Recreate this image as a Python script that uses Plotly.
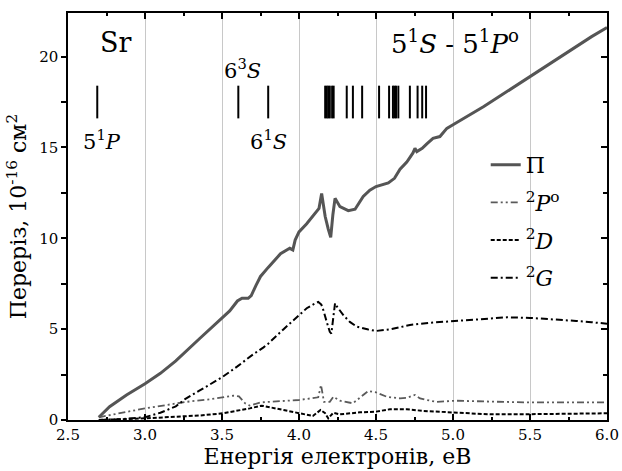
import plotly.graph_objects as go

# ---- data ----
E_total = [2.70, 2.77, 2.88, 3.00, 3.10, 3.20, 3.357, 3.50, 3.55, 3.60, 3.63, 3.67, 3.69, 3.72,
           3.75, 3.80, 3.85, 3.88, 3.94, 3.96, 3.975, 4.00, 4.05, 4.09, 4.13, 4.147, 4.17, 4.19,
           4.206, 4.22, 4.234, 4.266, 4.32, 4.364, 4.417, 4.46, 4.50, 4.58, 4.62, 4.656, 4.70,
           4.74, 4.753, 4.765, 4.80, 4.83, 4.87, 4.915, 4.96, 5.00, 5.10, 5.20, 5.30, 5.40, 5.50,
           5.60, 5.70, 5.80, 5.90, 6.00]
S_total = [0.15, 0.73, 1.38, 2.00, 2.57, 3.25, 4.50, 5.60, 6.00, 6.55, 6.70, 6.70, 6.85, 7.40,
           7.90, 8.40, 8.85, 9.15, 9.45, 9.36, 9.90, 10.35, 10.80, 11.25, 11.65, 12.47, 11.20, 10.50,
           10.05, 11.30, 12.20, 11.74, 11.52, 11.60, 12.30, 12.65, 12.85, 13.05, 13.30, 13.80, 14.20,
           14.70, 14.95, 14.77, 14.95, 15.20, 15.50, 15.60, 16.05, 16.25, 16.75, 17.25, 17.80, 18.35, 18.90,
           19.45, 20.00, 20.55, 21.10, 21.60]

E_P = [2.70, 2.88, 3.00, 3.27, 3.42, 3.573, 3.61, 3.65, 3.68, 3.75, 4.00, 4.125, 4.143, 4.162,
       4.20, 4.223, 4.266, 4.35, 4.45, 4.50, 4.57, 4.656, 4.70, 4.753, 4.786, 4.83, 4.89, 5.02,
       5.24, 5.46, 5.75, 6.00]
S_P = [0.15, 0.46, 0.64, 1.00, 1.14, 1.34, 1.30, 0.92, 0.79, 0.97, 1.10, 1.25, 1.93, 1.00,
       1.00, 1.28, 1.06, 0.92, 1.60, 1.52, 1.28, 1.19, 1.22, 1.38, 1.19, 1.10, 1.00, 1.06,
       1.00, 0.97, 0.97, 0.97]

E_D = [2.70, 3.00, 3.357, 3.508, 3.68, 3.758, 3.90, 4.00, 4.09, 4.14, 4.17, 4.19, 4.223, 4.266,
       4.396, 4.50, 4.59, 4.656, 4.70, 4.807, 5.00, 5.24, 5.50, 5.76, 6.00]
S_D = [0.00, 0.09, 0.25, 0.37, 0.64, 0.79, 0.55, 0.37, 0.22, 0.55, 0.37, 0.09, 0.40, 0.31,
       0.42, 0.46, 0.59, 0.59, 0.59, 0.50, 0.40, 0.31, 0.32, 0.33, 0.37]

E_G = [2.70, 2.85, 3.00, 3.10, 3.20, 3.26, 3.35, 3.42, 3.50, 3.60, 3.70, 3.77, 3.80, 3.90, 4.00,
       4.05, 4.10, 4.125, 4.145, 4.16, 4.18, 4.20, 4.21, 4.222, 4.234, 4.25, 4.29, 4.33, 4.375,
       4.45, 4.50, 4.60, 4.72, 4.85, 4.98, 5.10, 5.25, 5.35, 5.50, 5.65, 5.80, 5.90, 6.00]
S_G = [0.00, 0.05, 0.15, 0.40, 0.75, 1.15, 1.60, 1.95, 2.35, 2.95, 3.60, 4.00, 4.20, 5.00, 5.80,
       6.15, 6.40, 6.50, 6.35, 6.00, 5.40, 4.85, 4.75, 5.60, 6.43, 6.20, 5.75, 5.40, 5.14,
       4.98, 4.90, 5.00, 5.23, 5.35, 5.42, 5.50, 5.60, 5.65, 5.62, 5.55, 5.45, 5.38, 5.30]

# energy levels of Sr (eV) shown as vertical bars
levels = [2.69, 3.606, 3.80,
          4.17, 4.18, 4.19, 4.20, 4.215, 4.225, 4.31, 4.35, 4.41, 4.52, 4.585, 4.61, 4.62,
          4.63, 4.645, 4.72, 4.77, 4.80, 4.825]
level_lo, level_hi = 16.6, 18.4

x_ticks = [2.5, 3.0, 3.5, 4.0, 4.5, 5.0, 5.5, 6.0]
y_ticks = [0, 5, 10, 15, 20]

FONT = "DejaVu Serif"

fig = go.Figure()

# level bars
lx, ly = [], []
for e in levels:
    lx += [e, e, None]
    ly += [level_lo, level_hi, None]
fig.add_trace(go.Scatter(x=lx, y=ly, mode="lines", line=dict(color="black", width=2),
                         showlegend=False, hoverinfo="skip"))

fig.add_trace(go.Scatter(x=E_total, y=S_total, mode="lines", name="П",
                         line=dict(color="#555555", width=3), legendgroup="a"))
fig.add_trace(go.Scatter(x=E_P, y=S_P, mode="lines",
                         name="<sup>2</sup><i>P</i><sup>o</sup>",
                         line=dict(color="#5a5a5a", width=1.8, dash="7px,3px,2px,3px,2px,3px"),
                         legendgroup="b"))
fig.add_trace(go.Scatter(x=E_D, y=S_D, mode="lines", name="<sup>2</sup><i>D</i>",
                         line=dict(color="black", width=2, dash="4px,2px"), legendgroup="c"))
fig.add_trace(go.Scatter(x=E_G, y=S_G, mode="lines", name="<sup>2</sup><i>G</i>",
                         line=dict(color="black", width=2, dash="7px,3px,2px,3px"), legendgroup="d"))
# helper trace for right-hand axis ticks
fig.add_trace(go.Scatter(x=[None], y=[None], yaxis="y2", showlegend=False, hoverinfo="skip"))

ann_font = dict(family=FONT, size=21, color="black")
fig.add_annotation(x=2.81, y=20.75, text="Sr", showarrow=False,
                   font=dict(family=FONT, size=27, color="black"))
fig.add_annotation(x=2.72, y=15.4, text="5<sup>1</sup><i>P</i>", showarrow=False, font=ann_font)
fig.add_annotation(x=3.636, y=19.3, text="6<sup>3</sup><i>S</i>", showarrow=False, font=ann_font)
fig.add_annotation(x=3.80, y=15.4, text="6<sup>1</sup><i>S</i>", showarrow=False, font=ann_font)
fig.add_annotation(x=5.013, y=20.8, text="5<sup>1</sup><i>S</i> - 5<sup>1</sup><i>P</i><sup>o</sup>",
                   showarrow=False, font=dict(family=FONT, size=26, color="black"))

fig.update_layout(
    width=622, height=471,
    margin=dict(l=68, r=15, t=13, b=51, autoexpand=False),
    paper_bgcolor="white", plot_bgcolor="white",
    font=dict(family=FONT, size=15, color="black"),
    legend=dict(x=0.775, y=0.678, xanchor="left", yanchor="top", bgcolor="rgba(0,0,0,0)",
                font=dict(family=FONT, size=22), tracegroupgap=6),
    xaxis=dict(range=[2.5, 6.0], tickvals=x_ticks, ticktext=[f"{v:.1f}" for v in x_ticks],
               ticks="inside", ticklen=6, tickwidth=1.5, tickcolor="black", automargin=False,
               minor=dict(dtick=0.25, tick0=2.5, ticks="inside", ticklen=3, tickcolor="black", showgrid=False),
               showline=True, linecolor="black", linewidth=1.5, mirror="ticks",
               showgrid=True, gridcolor="#c8c8c8", gridwidth=1, zeroline=False,
               title=dict(text="Енергія електронів, еВ", font=dict(family=FONT, size=22), standoff=2)),
    yaxis=dict(range=[0, 22.4], tickvals=y_ticks, automargin=False,
               ticks="outside", ticklen=5, tickwidth=1.5, tickcolor="black",
               minor=dict(dtick=2.5, tick0=0, ticks="outside", ticklen=5, tickcolor="black", showgrid=False),
               showline=True, linecolor="black", linewidth=1.5, mirror=True,
               showgrid=False, zeroline=False,
               title=dict(text="Переріз, 10<sup>-16</sup> см<sup>2</sup>", font=dict(family=FONT, size=22),
                          standoff=6)),
    yaxis2=dict(range=[0, 22.4], overlaying="y", side="right", tickvals=y_ticks, automargin=False,
                ticks="inside", ticklen=6, tickwidth=1.5, tickcolor="black", showticklabels=False,
                minor=dict(dtick=2.5, tick0=0, ticks="inside", ticklen=4, tickcolor="black", showgrid=False),
                showline=False, showgrid=False, zeroline=False),
)

fig.write_html("out.html")
